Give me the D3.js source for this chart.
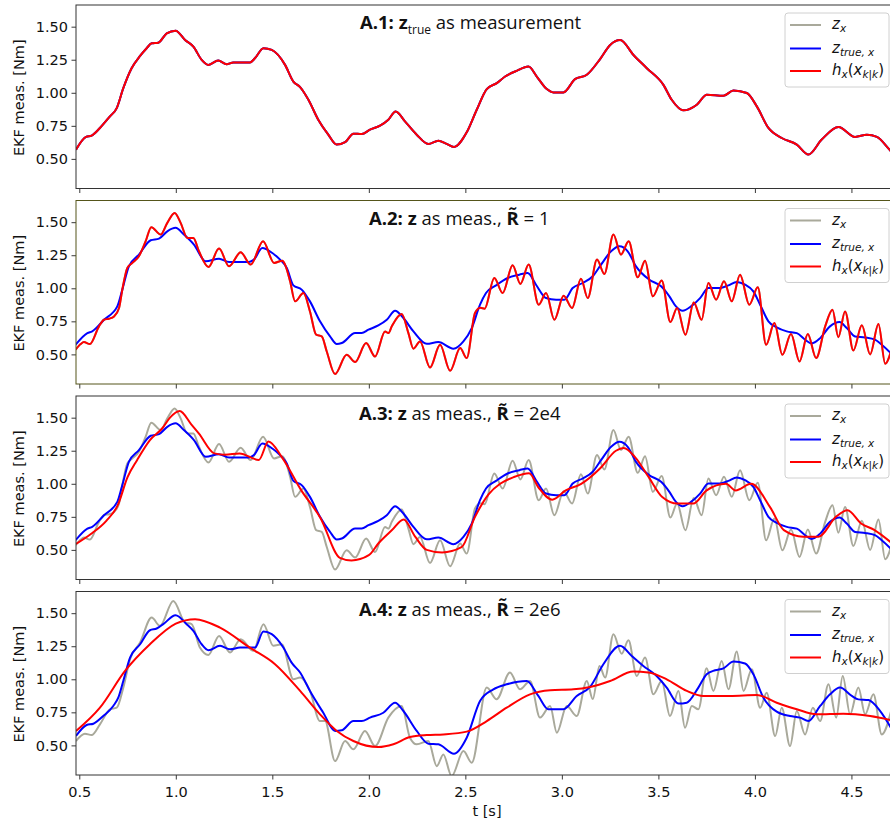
<!DOCTYPE html>
<html><head><meta charset="utf-8">
<script src="https://cdn.jsdelivr.net/npm/d3@7"></script>
<style>body{margin:0;background:#fff} svg{display:block}</style>
</head><body><svg id="chart" width="890" height="823"></svg>
<script>
// ---- data: [t (s), value (Nm)] ----
// A.1 filter output with z_true fed as the measurement (z, z_true and h coincide)
const hA1 = [[0.483,0.570],[0.535,0.666],[0.564,0.676],[0.607,0.734],[0.659,0.822],[0.694,0.884],[0.728,1.035],[0.771,1.186],[0.815,1.279],[0.849,1.337],[0.875,1.374],[0.909,1.379],[0.953,1.450],[0.999,1.470],[1.048,1.399],[1.091,1.349],[1.134,1.249],[1.169,1.211],[1.220,1.244],[1.263,1.216],[1.298,1.229],[1.384,1.229],[1.410,1.261],[1.454,1.337],[1.497,1.324],[1.566,1.211],[1.609,1.085],[1.644,1.043],[1.687,0.947],[1.738,0.796],[1.790,0.683],[1.833,0.608],[1.877,0.626],[1.920,0.691],[1.963,0.688],[2.006,0.721],[2.058,0.751],[2.101,0.796],[2.139,0.859],[2.187,0.784],[2.248,0.683],[2.308,0.613],[2.360,0.638],[2.403,0.613],[2.441,0.590],[2.507,0.701],[2.559,0.872],[2.611,1.028],[2.663,1.073],[2.706,1.123],[2.766,1.166],[2.827,1.198],[2.870,1.123],[2.922,1.028],[2.956,1.003],[3.008,1.003],[3.068,1.103],[3.129,1.136],[3.198,1.255],[3.250,1.362],[3.302,1.399],[3.371,1.286],[3.440,1.186],[3.526,1.060],[3.569,0.947],[3.630,0.867],[3.699,0.910],[3.751,0.985],[3.837,0.977],[3.889,1.018],[3.958,0.998],[4.010,0.897],[4.070,0.734],[4.139,0.658],[4.217,0.608],[4.277,0.533],[4.346,0.646],[4.433,0.741],[4.519,0.666],[4.580,0.683],[4.632,0.666],[4.697,0.570],[4.710,0.550]];

// run A (panels A.2, A.3): true signal and noisy measurement
const zTrueA = [[0.481,0.573],[0.542,0.661],[0.567,0.674],[0.628,0.762],[0.697,0.863],[0.723,0.990],[0.757,1.166],[0.809,1.255],[0.870,1.363],[0.913,1.376],[0.956,1.431],[0.999,1.457],[1.042,1.406],[1.094,1.330],[1.155,1.204],[1.224,1.224],[1.276,1.199],[1.379,1.199],[1.405,1.217],[1.448,1.305],[1.500,1.267],[1.540,1.217],[1.575,1.154],[1.609,1.022],[1.652,0.990],[1.695,0.901],[1.747,0.750],[1.799,0.636],[1.834,0.578],[1.860,0.586],[1.929,0.661],[1.963,0.661],[1.998,0.687],[2.049,0.719],[2.093,0.762],[2.136,0.830],[2.179,0.775],[2.231,0.674],[2.300,0.580],[2.360,0.593],[2.438,0.543],[2.490,0.598],[2.533,0.699],[2.576,0.876],[2.607,0.964],[2.659,1.022],[2.719,1.078],[2.780,1.103],[2.823,1.116],[2.866,1.027],[2.918,0.926],[2.970,0.914],[3.013,0.914],[3.056,1.002],[3.108,1.040],[3.160,1.091],[3.203,1.179],[3.255,1.280],[3.298,1.318],[3.341,1.280],[3.384,1.166],[3.453,1.065],[3.514,1.015],[3.557,0.939],[3.591,0.863],[3.626,0.830],[3.669,0.863],[3.716,0.926],[3.759,1.002],[3.819,1.002],[3.863,1.022],[3.906,1.048],[3.949,1.027],[3.992,0.977],[4.027,0.876],[4.070,0.750],[4.113,0.704],[4.165,0.674],[4.217,0.661],[4.260,0.611],[4.294,0.583],[4.338,0.623],[4.389,0.712],[4.438,0.745],[4.476,0.699],[4.519,0.636],[4.571,0.628],[4.622,0.611],[4.657,0.573],[4.710,0.500]];

const zMeasA = [[0.481,0.535],[0.507,0.578],[0.524,0.593],[0.555,0.578],[0.602,0.712],[0.628,0.762],[0.654,0.770],[0.680,0.787],[0.706,0.851],[0.723,0.990],[0.749,1.154],[0.775,1.192],[0.809,1.242],[0.844,1.356],[0.873,1.462],[0.922,1.406],[0.956,1.495],[0.994,1.570],[1.025,1.495],[1.060,1.381],[1.091,1.381],[1.120,1.280],[1.169,1.161],[1.224,1.300],[1.276,1.166],[1.336,1.272],[1.388,1.179],[1.452,1.356],[1.509,1.192],[1.552,1.209],[1.566,1.179],[1.592,1.053],[1.618,0.901],[1.661,0.964],[1.695,0.825],[1.727,0.649],[1.756,0.636],[1.782,0.522],[1.825,0.351],[1.885,0.497],[1.929,0.442],[1.986,0.586],[2.032,0.484],[2.084,0.674],[2.101,0.661],[2.119,0.712],[2.170,0.805],[2.205,0.661],[2.231,0.543],[2.265,0.598],[2.317,0.401],[2.369,0.573],[2.421,0.376],[2.473,0.548],[2.507,0.472],[2.550,0.813],[2.578,0.852],[2.600,0.846],[2.650,1.078],[2.693,0.964],[2.745,1.174],[2.785,1.033],[2.828,1.179],[2.880,0.876],[2.918,0.964],[2.961,0.762],[3.009,0.944],[3.053,0.851],[3.099,1.073],[3.134,0.926],[3.182,1.217],[3.220,1.108],[3.267,1.406],[3.306,1.255],[3.346,1.356],[3.393,1.083],[3.431,1.209],[3.471,0.939],[3.517,1.058],[3.562,0.745],[3.597,0.851],[3.640,0.649],[3.683,0.893],[3.724,0.762],[3.759,1.040],[3.799,0.914],[3.840,1.053],[3.880,0.901],[3.923,1.103],[3.971,0.876],[4.015,1.007],[4.058,0.573],[4.101,0.737],[4.142,0.497],[4.187,0.654],[4.231,0.447],[4.274,0.654],[4.317,0.472],[4.364,0.712],[4.402,0.838],[4.432,0.630],[4.467,0.825],[4.510,0.530],[4.554,0.720],[4.597,0.500],[4.640,0.730],[4.675,0.430],[4.710,0.550]];

// A.3 filter output, R~ = 2e4
const hA3 = [[0.483,0.545],[0.560,0.620],[0.640,0.720],[0.700,0.840],[0.750,1.050],[0.800,1.180],[0.866,1.330],[0.930,1.420],[0.970,1.500],[1.020,1.550],[1.080,1.450],[1.120,1.380],[1.200,1.230],[1.255,1.220],[1.330,1.230],[1.430,1.180],[1.480,1.320],[1.550,1.200],[1.650,0.950],[1.750,0.740],[1.850,0.440],[1.910,0.420],[2.000,0.460],[2.050,0.550],[2.120,0.650],[2.180,0.730],[2.240,0.600],[2.300,0.500],[2.380,0.480],[2.480,0.520],[2.550,0.750],[2.620,0.920],[2.680,1.000],[2.750,1.050],[2.830,1.080],[2.880,0.970],[2.950,0.880],[3.020,0.950],[3.100,1.000],[3.200,1.120],[3.280,1.250],[3.320,1.270],[3.380,1.200],[3.450,1.050],[3.520,0.900],[3.600,0.850],[3.680,0.850],[3.750,0.950],[3.850,1.000],[3.900,0.950],[3.980,1.000],[4.080,0.820],[4.150,0.650],[4.250,0.600],[4.330,0.600],[4.420,0.750],[4.480,0.800],[4.550,0.700],[4.620,0.650],[4.710,0.550]];

// run B (panel A.4): true signal and noisy measurement
const zTrueB = [[0.483,0.571],[0.538,0.654],[0.573,0.664],[0.624,0.722],[0.676,0.798],[0.702,0.861],[0.728,0.987],[0.763,1.164],[0.815,1.265],[0.866,1.371],[0.901,1.384],[0.935,1.417],[0.999,1.485],[1.056,1.417],[1.091,1.366],[1.134,1.265],[1.169,1.220],[1.229,1.253],[1.281,1.227],[1.333,1.240],[1.410,1.240],[1.454,1.361],[1.497,1.341],[1.557,1.240],[1.600,1.126],[1.644,1.051],[1.695,0.912],[1.764,0.747],[1.825,0.609],[1.859,0.614],[1.920,0.684],[1.963,0.684],[2.006,0.710],[2.075,0.747],[2.136,0.823],[2.179,0.760],[2.248,0.609],[2.308,0.513],[2.360,0.508],[2.441,0.437],[2.507,0.558],[2.576,0.836],[2.645,0.924],[2.714,0.962],[2.818,0.987],[2.878,0.874],[2.930,0.773],[3.008,0.773],[3.077,0.874],[3.146,0.942],[3.215,1.114],[3.301,1.253],[3.362,1.177],[3.422,1.101],[3.491,1.025],[3.543,0.937],[3.604,0.816],[3.647,0.823],[3.707,0.937],[3.750,1.038],[3.794,1.068],[3.837,1.083],[3.889,1.134],[3.949,1.119],[3.992,1.038],[4.044,0.861],[4.113,0.755],[4.182,0.722],[4.234,0.710],[4.277,0.684],[4.338,0.798],[4.389,0.886],[4.441,0.937],[4.502,0.874],[4.536,0.848],[4.588,0.843],[4.649,0.760],[4.710,0.620]];

const zMeasB = [[0.483,0.533],[0.529,0.588],[0.564,0.578],[0.607,0.659],[0.659,0.773],[0.694,0.785],[0.728,0.937],[0.763,1.152],[0.815,1.278],[0.875,1.467],[0.918,1.404],[0.987,1.593],[1.048,1.429],[1.082,1.417],[1.125,1.240],[1.169,1.184],[1.224,1.328],[1.281,1.202],[1.336,1.303],[1.402,1.215],[1.454,1.417],[1.505,1.253],[1.549,1.265],[1.609,1.000],[1.644,1.013],[1.695,0.912],[1.747,0.684],[1.773,0.684],[1.825,0.381],[1.877,0.533],[1.920,0.470],[1.980,0.609],[2.032,0.495],[2.101,0.710],[2.170,0.798],[2.213,0.558],[2.248,0.508],[2.308,0.533],[2.352,0.343],[2.386,0.432],[2.429,0.268],[2.490,0.457],[2.533,0.369],[2.611,0.937],[2.662,0.849],[2.731,1.051],[2.783,0.924],[2.835,0.987],[2.887,0.710],[2.939,0.798],[2.974,0.596],[3.025,0.798],[3.077,0.722],[3.129,0.987],[3.160,0.850],[3.195,1.100],[3.224,1.013],[3.267,1.341],[3.310,1.194],[3.345,1.295],[3.388,1.025],[3.431,1.164],[3.474,0.886],[3.517,0.987],[3.560,0.722],[3.604,0.912],[3.638,0.634],[3.673,0.798],[3.707,0.773],[3.750,1.083],[3.785,0.912],[3.828,1.139],[3.863,0.924],[3.906,1.210],[3.941,0.912],[3.984,1.076],[4.027,0.785],[4.061,0.899],[4.105,0.571],[4.139,0.785],[4.182,0.495],[4.217,0.760],[4.260,0.583],[4.300,0.785],[4.338,0.684],[4.381,0.962],[4.421,0.710],[4.455,1.025],[4.493,0.735],[4.536,0.937],[4.571,0.735],[4.614,0.886],[4.657,0.583],[4.710,0.785]];

// A.4 filter output, R~ = 2e6
const hA4 = [[0.483,0.608],[0.607,0.785],[0.737,1.063],[0.866,1.265],[1.000,1.421],[1.100,1.455],[1.229,1.391],[1.384,1.239],[1.514,1.114],[1.644,0.912],[1.747,0.735],[1.834,0.609],[1.920,0.533],[2.049,0.487],[2.127,0.508],[2.213,0.563],[2.300,0.578],[2.386,0.583],[2.507,0.604],[2.611,0.684],[2.714,0.785],[2.835,0.886],[2.939,0.917],[3.060,0.924],[3.146,0.942],[3.250,0.987],[3.370,1.058],[3.448,1.051],[3.543,1.000],[3.647,0.912],[3.733,0.874],[3.871,0.874],[4.010,0.881],[4.113,0.823],[4.217,0.773],[4.320,0.735],[4.458,0.740],[4.597,0.722],[4.710,0.689]];

const xTicks = [0.5, 1.0, 1.5, 2.0, 2.5, 3.0, 3.5, 4.0, 4.5];
const yTicks = [0.50, 0.75, 1.00, 1.25, 1.50];

// panels: which series go in which axes (gray z, blue z_true, red h)
const panels = [
  {id: "A.1", gray: hA1, blue: hA1, red: hA1, frame: "#333"},
  {id: "A.2", gray: zMeasA, blue: zTrueA, red: zMeasA, frame: "#55551a"},
  {id: "A.3", gray: zMeasA, blue: zTrueA, red: hA3, frame: "#333"},
  {id: "A.4", gray: zMeasB, blue: zTrueB, red: hA4, frame: "#333"}
];

// ---- layout ----
const svg = d3.select("#chart");
const left = 76, right = 891, panelH = 183.5;
const tops = [5, 200.5, 396, 591.5];
const colors = {gray: "#a9a99b", blue: "#0000ff", red: "#ff0000"};
const x = d3.scaleLinear().domain([0.483, 4.705]).range([left, right]);
const tickFont = "DejaVu Sans, sans-serif";
const tickSize = 14.5;

svg.append("defs").append("clipPath").attr("id", "clip")
  .append("rect").attr("x", left).attr("y", 0).attr("width", right - left).attr("height", panelH);

panels.forEach((p, i) => {
  const g = svg.append("g").attr("transform", `translate(0,${tops[i]})`);
  const y = d3.scaleLinear().domain([0.276, 1.664]).range([panelH, 0]);
  const line = d3.line().x(d => x(d[0])).y(d => y(d[1])).curve(d3.curveMonotoneX);

  const plot = g.append("g").attr("clip-path", "url(#clip)");
  ["gray", "blue", "red"].forEach(k => {
    plot.append("path").datum(p[k]).attr("d", line)
      .attr("fill", "none").attr("stroke", colors[k]).attr("stroke-width", 2)
      .attr("stroke-linejoin", "round");
  });

  // y axis
  const ya = g.append("g").attr("transform", `translate(${left},0)`)
    .call(d3.axisLeft(y).tickValues(yTicks).tickFormat(d3.format(".2f")).tickSize(4.5).tickPadding(3.5));
  ya.select(".domain").remove();
  ya.selectAll("line").attr("stroke", "#222").attr("stroke-width", 0.9);
  ya.selectAll("text").attr("font-family", tickFont).attr("font-size", tickSize).attr("fill", "#111");

  // x axis (labels only on the last panel)
  const xa = g.append("g").attr("transform", `translate(0,${panelH})`)
    .call(d3.axisBottom(x).tickValues(xTicks).tickFormat(i === 3 ? d3.format(".1f") : "").tickSize(4.5).tickPadding(7.5));
  xa.select(".domain").remove();
  xa.selectAll("line").attr("stroke", "#222").attr("stroke-width", 0.9);
  xa.selectAll("text").attr("font-family", tickFont).attr("font-size", tickSize).attr("fill", "#111");

  // frame
  g.append("rect").attr("x", left).attr("y", 0).attr("width", right - left).attr("height", panelH)
    .attr("fill", "none").attr("stroke", p.frame).attr("stroke-width", 1);

  // y label
  g.append("text").attr("transform", `translate(24,${panelH / 2 + 1}) rotate(-90)`)
    .attr("text-anchor", "middle").attr("font-family", tickFont).attr("font-size", tickSize).attr("fill", "#111")
    .text("EKF meas. [Nm]");

  // title
  const tf = "'Open Sans', 'Noto Sans', sans-serif";
  const title = g.append("text").attr("y", 24).attr("font-family", tf).attr("font-size", 18.5).attr("fill", "#111");
  if (i === 0) {
    title.attr("x", 360);
    title.append("tspan").attr("font-weight", "bold").text("A.1: z");
    title.append("tspan").attr("font-size", 12).attr("dy", 5).text("true");
    title.append("tspan").attr("dy", -5).text(" as measurement");
  } else {
    title.attr("x", i === 1 ? 369 : 359);
    title.append("tspan").attr("font-weight", "bold").text(`${p.id}: z`);
    title.append("tspan").text(" as meas., ");
    title.append("tspan").attr("font-weight", "bold").text("R\u0303");
    title.append("tspan").text(" = " + ["", "1", "2e4", "2e6"][i]);
  }

  // legend
  const lg = g.append("g").attr("transform", "translate(785,8)");
  lg.append("rect").attr("width", 104).attr("height", 74).attr("rx", 3)
    .attr("fill", "#fff").attr("fill-opacity", 0.8).attr("stroke", "#d0d0d0").attr("stroke-width", 1);
  const mf = "'DejaVu Sans', sans-serif";
  const rows = [12, 35.5, 58];
  ["gray", "blue", "red"].forEach((k, j) => {
    lg.append("line").attr("x1", 5).attr("x2", 36).attr("y1", rows[j]).attr("y2", rows[j])
      .attr("stroke", colors[k]).attr("stroke-width", 2);
  });
  const t0 = lg.append("text").attr("x", 47).attr("y", rows[0] + 4).attr("font-family", mf).attr("font-style", "italic").attr("font-size", 15).attr("fill", "#111");
  t0.append("tspan").text("z");
  t0.append("tspan").attr("font-size", 10.5).attr("dy", 3).text("x");
  const t1 = lg.append("text").attr("x", 47).attr("y", rows[1] + 4).attr("font-family", mf).attr("font-style", "italic").attr("font-size", 15).attr("fill", "#111");
  t1.append("tspan").text("z");
  t1.append("tspan").attr("font-size", 10.5).attr("dy", 3).text("true, x");
  const t2 = lg.append("text").attr("x", 47).attr("y", rows[2] + 4).attr("font-family", mf).attr("font-size", 15).attr("fill", "#111");
  t2.append("tspan").attr("font-style", "italic").text("h");
  t2.append("tspan").attr("font-style", "italic").attr("font-size", 10.5).attr("dy", 3).text("x");
  t2.append("tspan").attr("dy", -3).text("(");
  t2.append("tspan").attr("font-style", "italic").text("x");
  t2.append("tspan").attr("font-style", "italic").attr("font-size", 10.5).attr("dy", 3).text("k|k");
  t2.append("tspan").attr("dy", -3).text(")");
});

// x label
svg.append("text").attr("x", 487).attr("y", 816).attr("text-anchor", "middle")
  .attr("font-family", tickFont).attr("font-size", tickSize).attr("fill", "#111").text("t [s]");
</script>
</body></html>
